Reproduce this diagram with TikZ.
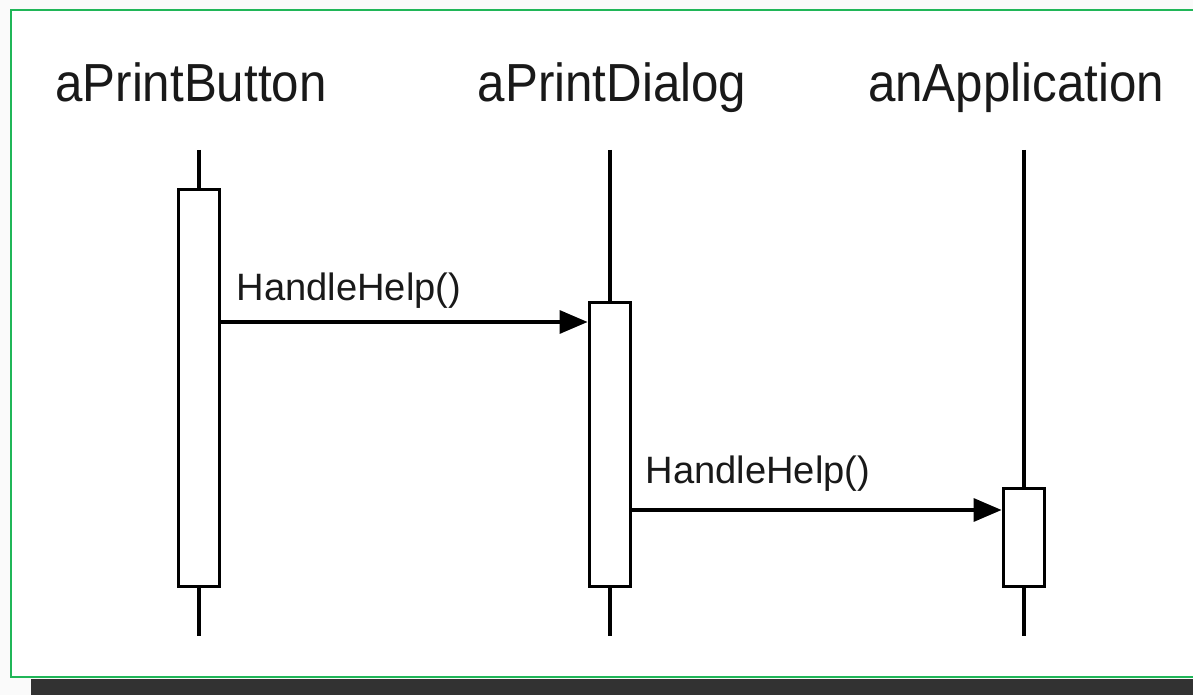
\documentclass[tikz,border=0pt]{standalone}
\usepackage{fontspec}
\setmainfont{Liberation Sans}
\newfontfamily\hdrfont[FakeStretch=0.92]{Liberation Sans}
\usepackage{tikz}
\usetikzlibrary{arrows.meta}
\definecolor{framegreen}{RGB}{32,182,88}
\definecolor{footbar}{RGB}{50,50,50}

\begin{document}
\begin{tikzpicture}[x=0.02cm,y=-0.02cm,line width=1.9pt,
  obj/.style={font=\hdrfont\fontsize{30.5}{34}\selectfont,text=black!90,anchor=base,inner sep=0pt},
  act/.style={draw,fill=white,minimum width=0.83cm,inner sep=0pt,anchor=north},
  msg/.style={-{Triangle[length=0.56cm,width=0.46cm]}},
  lbl/.style={font=\fontsize{21.7}{24}\selectfont,text=black!90,anchor=base west,inner sep=0pt}]
\useasboundingbox (0,0) rectangle (1193,695);
\fill[gray!4] (0,0) rectangle (1193,695);
\draw[framegreen,line width=1.2pt,fill=white] (11,10) rectangle (1200,677);
\fill[footbar] (31,679) rectangle (1193,695);

% objects
\node[obj] (btn) at (191,102) {aPrintButton};
\node[obj] (dlg) at (612,102) {aPrintDialog};
\node[obj] (app) at (1016,102) {anApplication};

% lifelines
\coordinate (btnTop) at (199,150);  \coordinate (btnEnd) at (199,636);
\coordinate (dlgTop) at (610,150);  \coordinate (dlgEnd) at (610,636);
\coordinate (appTop) at (1024,150); \coordinate (appEnd) at (1024,636);
\draw (btnTop) -- (btnEnd);
\draw (dlgTop) -- (dlgEnd);
\draw (appTop) -- (appEnd);

% activations
\node[act,minimum height=7.94cm] (btnAct) at (199,188) {};
\node[act,minimum height=5.68cm] (dlgAct) at (610,301) {};
\node[act,minimum height=1.96cm] (appAct) at (1024,487) {};

% messages
\coordinate (m1) at (0,322);
\coordinate (m2) at (0,510);
\draw[msg] (btnAct.east |- m1) -- (dlgAct.west |- m1);
\draw[msg] (dlgAct.east |- m2) -- (appAct.west |- m2);
\node[lbl] (help1) at (235,301) {HandleHelp()};
\node[lbl] (help2) at (644,483) {HandleHelp()};
\end{tikzpicture}
\end{document}
